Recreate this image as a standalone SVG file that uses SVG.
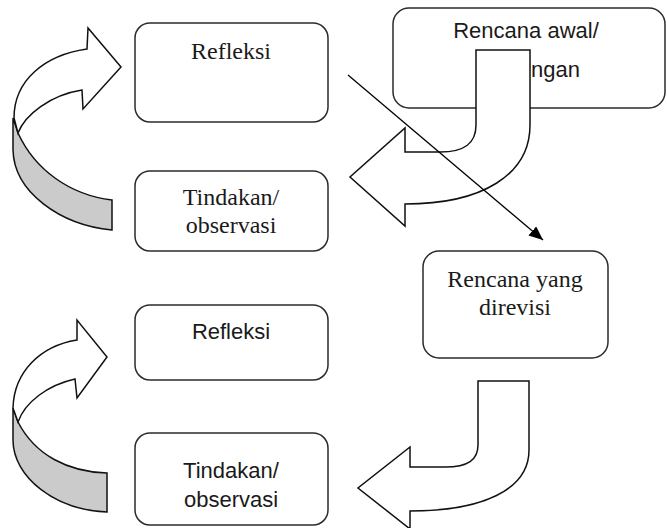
<svg xmlns="http://www.w3.org/2000/svg" width="667" height="528" viewBox="0 0 667 528">
<style>
.box{fill:#fff;stroke:#2b2b2b;stroke-width:1.5}
.serif{font-family:"Liberation Serif","Times New Roman",serif;font-size:24px;fill:#1a1a1a}
.sans{font-family:"Liberation Sans",Arial,sans-serif;font-size:22px;fill:#1a1a1a}
.arw{fill:#fff;stroke:#111;stroke-width:1.5;stroke-linejoin:miter}
.band{fill:#cbcbcb;stroke:#111;stroke-width:1.5}
</style>
<defs>
<marker id="ah" markerUnits="userSpaceOnUse" markerWidth="16" markerHeight="12" refX="14" refY="6" orient="auto">
<path d="M0 0 L14 6 L0 12 Z" fill="#000"/>
</marker>
</defs>
<rect width="667" height="528" fill="#fff"/>
<g id="refleksi1">
<rect class="box" x="135" y="23" width="193" height="99" rx="15"/>
<text class="serif" x="231" y="59" text-anchor="middle">Refleksi</text>
</g>
<g id="tindakan1">
<rect class="box" x="135" y="171" width="193" height="80" rx="15"/>
<text class="serif" x="231" y="205" text-anchor="middle">Tindakan/</text>
<text class="serif" x="231" y="233" text-anchor="middle">observasi</text>
</g>
<g id="rencana-awal">
<rect class="box" x="393" y="8" width="272" height="100" rx="16"/>
<text class="sans" x="526" y="38" text-anchor="middle">Rencana awal/</text>
<text class="sans" x="531" y="77">ngan</text>
</g>
<g id="rencana-revisi">
<rect class="box" x="423" y="251" width="185" height="107" rx="16"/>
<text class="serif" x="515" y="287" text-anchor="middle">Rencana yang</text>
<text class="serif" x="515" y="315" text-anchor="middle">direvisi</text>
</g>
<g id="refleksi2">
<rect class="box" x="135" y="305" width="193" height="75" rx="15"/>
<text class="sans" x="231" y="339" text-anchor="middle">Refleksi</text>
</g>
<g id="tindakan2">
<rect class="box" x="135" y="433" width="193" height="92" rx="15"/>
<text class="sans" x="231" y="478" text-anchor="middle">Tindakan/</text>
<text class="sans" x="231" y="507" text-anchor="middle">observasi</text>
</g>
<g id="connectors">
<path class="band" d="M18 133 C35 170 70 195 112 200 L112 230 C60 225 14 192 13 150 L13 118 Z"/>
<path class="arw" d="M14 118 C14 80 45 55 87 49 L88 28 L121 67 L83 109 L82 90 C50 95 25 115 18 133 Z"/>
<path class="band" d="M18 422 C35 455 68 472 107 473 L107 512 C55 510 13 477 13 440 L13 408 Z"/>
<path class="arw" d="M13 408 C14 372 40 346 77 340 L77 320 L107 357 L77 398 L75 379 C48 385 25 402 18 422 Z"/>
<path class="arw" d="M476 50 L530 50 L530 125 C530 175 482 204 405 204 L405 226 L350 177 L405 128 L405 152 L440 152 C465 152 476 143 476 125 Z"/>
<path class="arw" d="M478 381 L529 381 L529 450 C529 490 482 511 410 511 L410 529 L358 488 L410 447 L410 467 L445 467 C468 467 478 460 478 445 Z"/>
<line x1="348" y1="75" x2="543" y2="240" stroke="#000" stroke-width="1.3" marker-end="url(#ah)"/>
</g>
</svg>
